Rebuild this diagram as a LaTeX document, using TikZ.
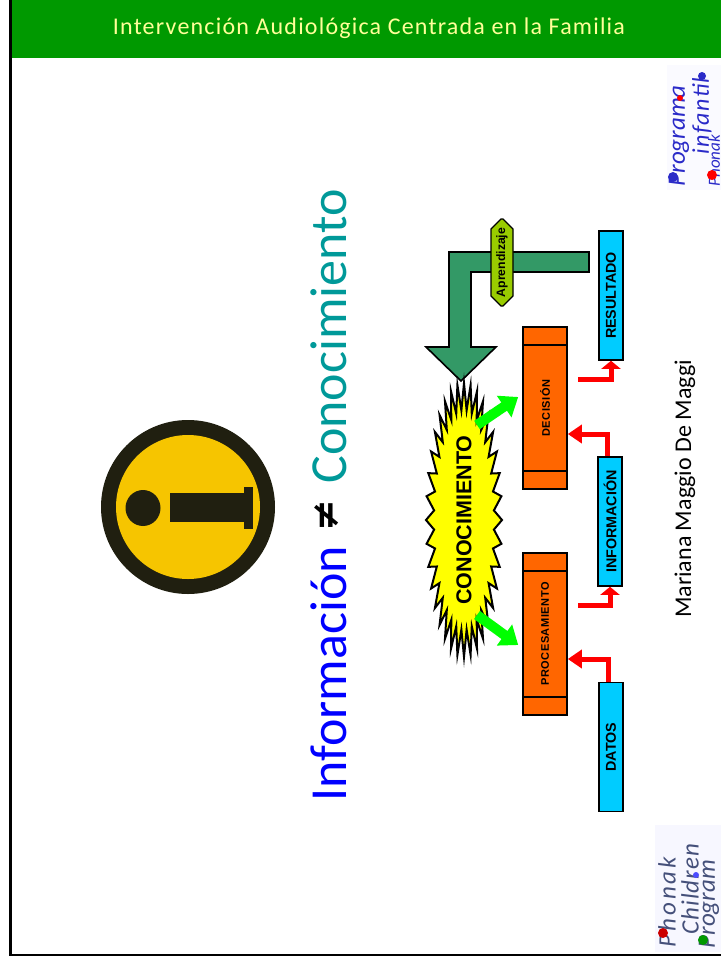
\documentclass[tikz,border=0pt]{standalone}
\usepackage{fontspec}
\setmainfont{Carlito}
\newfontfamily\armfont{Liberation Sans}
\newfontfamily\signfont{DejaVu Sans}
\usetikzlibrary{arrows.meta,shapes.misc}
\definecolor{hdrgreen}{HTML}{009900}
\definecolor{hdrtext}{HTML}{FFFF99}
\definecolor{teal}{HTML}{009999}
\definecolor{arrowgreen}{HTML}{339966}
\definecolor{infoblue}{HTML}{00CCFF}
\definecolor{boxorange}{HTML}{FF6600}
\definecolor{learngreen}{HTML}{99CC00}
\definecolor{burstyellow}{HTML}{FFFF00}
\definecolor{signyellow}{HTML}{F6C500}
\definecolor{signdark}{HTML}{201F10}
\definecolor{inkblue}{HTML}{2A2AC8}
\definecolor{inkgrey}{HTML}{45507A}
\tikzset{
  infobox/.style={draw=black, line width=1.6pt, fill=infoblue, minimum width=24pt,
    minimum height=129pt, inner sep=0pt, font=\armfont\bfseries\fontsize{14.3}{15}\selectfont},
  stepbox/.style={draw=black, line width=1.6pt, fill=boxorange, minimum width=44pt,
    minimum height=162pt, inner sep=0pt, font=\armfont\bfseries\fontsize{11}{11}\selectfont},
  redarrow/.style={draw=red, line width=5pt,
    -{Triangle[length=14pt,width=18pt,fill=red]}},
  redshort/.style={draw=red, line width=5pt,
    -{Triangle[length=8pt,width=19pt,fill=red]}},
  limearrow/.style={draw=green, line width=10pt,
    -{Triangle[length=17pt,width=25pt,fill=green]}},
  logotext/.style={rotate=90, anchor=west, font=\rmfamily\itshape\fontsize{#1}{#1}\selectfont}
}
\begin{document}
\begin{tikzpicture}[x=1pt, y=-1pt]
  \useasboundingbox (0,0) rectangle (721,961);
  \clip (0,0) rectangle (721,961);
  \fill[white] (0,0) rectangle (721,961);

  % frame and header
  \draw[black, line width=2.5pt] (10.5,0) -- (10.5,955) -- (721,955);
  \fill[hdrgreen] (11.5,0) rectangle (721,58);
  \node[text=hdrtext, font=\fontsize{24}{25}\selectfont] (title) at (369,28)
    {\addfontfeature{LetterSpace=5}Intervención Audiológica Centrada en la Familia};

  % information sign
  \fill[signdark] (188,507) circle (87);
  \fill[signyellow] (188,507) circle (72);
  \fill[signdark] (143,508) ellipse (17.5 and 18);
  \fill[signdark] (170,493) rectangle (245,522);
  \fill[signdark] (244,487) rectangle (253,529);

  % heading
  \node[rotate=90, anchor=west, text=blue, font=\fontsize{52}{52}\selectfont] (info) at (329,805) {Información};
  \node[rotate=90, anchor=west, text=teal, font=\fontsize{52}{52}\selectfont] (know) at (329,487) {Conocimiento};
  \node[rotate=90, font=\signfont\bfseries\fontsize{38}{38}\selectfont] (neq) at (327,516) {≠};

  % bent arrow
  \draw[black, line width=1.6pt, fill=arrowgreen] (589,252) -- (449,252) -- (449,347) -- (426,347)
    -- (461,381) -- (496,347) -- (471,347) -- (471,272) -- (589,272) -- cycle;
  \node[chamfered rectangle, chamfered rectangle xsep=5pt, chamfered rectangle ysep=5pt,
    draw=black, line width=1.2pt, fill=learngreen, minimum width=22pt, minimum height=87pt,
    inner sep=0pt] (learn) at (502,262.5)
    {\rotatebox{90}{\armfont\bfseries\fontsize{12.2}{13}\selectfont Aprendizaje}};

  % burst
  \draw[black, line width=2pt, fill=burstyellow, line join=miter, miter limit=20]
    plot[samples at={0,5,...,355}] ({464+(mod(round(\x/5),2)==0 ? 38 : 30)*cos(\x)},
      {520+(mod(round(\x/5),2)==0 ? 137 : 110)*sin(\x)}) -- cycle;
  \node[font=\armfont\bfseries\fontsize{21.5}{22}\selectfont] (burst) at (464,520) {\rotatebox{90}{CONOCIMIENTO}};

  % boxes
  \node[infobox] (datos) at (611,747) {\rotatebox{90}{DATOS}};
  \node[infobox] (informacion) at (610,521.5) {\rotatebox{90}{INFORMACIÓN}};
  \node[infobox] (resultado) at (611,295.5) {\rotatebox{90}{RESULTADO}};
  \node[stepbox] (proceso) at (545,634) {\rotatebox{90}{\addfontfeature{LetterSpace=5}PROCESAMIENTO}};
  \node[stepbox] (decision) at (545,408) {\rotatebox{90}{\addfontfeature{LetterSpace=5}DECISIÓN}};
  \foreach \n in {proceso,decision} {
    \draw[line width=1.6pt] ([yshift=-19pt]\n.north west) -- ([yshift=-19pt]\n.north east);
    \draw[line width=1.6pt] ([yshift=19pt]\n.south west) -- ([yshift=19pt]\n.south east);
  }

  % connectors
  \coordinate (procout) at (578,605);
  \coordinate (decout) at (578,379);
  \draw[redarrow] ([xshift=-3pt]datos.north) |- ([yshift=-25pt]proceso.east);
  \draw[redarrow] ([xshift=-3pt]informacion.north) |- ([yshift=-26pt]decision.east);
  \draw[redshort] (procout) -| (informacion.south);
  \draw[redshort] (decout) -| (resultado.south);
  \coordinate (burstlow) at (477,615);
  \coordinate (burstup) at (477,425);
  \draw[limearrow] (burstlow) -- ([xshift=-4pt,yshift=-11pt]proceso.west);
  \draw[limearrow] (burstup) -- ([xshift=-4pt,yshift=11pt]decision.west);

  % author
  \node[rotate=90, font=\fontsize{24}{24}\selectfont] (author) at (685,489) {Mariana Maggio De Maggi};

  % logos
  \fill[blue!2] (667,65) rectangle (721,190);
  \node[logotext=25, text=inkblue] (logoa) at (679,190) {Programa};
  \node[logotext=24, text=inkblue] (logob) at (702,158) {\addfontfeature{LetterSpace=6}infantil};
  \node[logotext=17, text=inkblue] (logoc) at (714,190) {Phonak};
  \fill[red] (680,98) circle (3);
  \fill[inkblue] (673,177) circle (5);
  \fill[inkblue] (702,76) circle (4);
  \fill[red] (712,175) circle (5);
  \fill[blue!3] (655,825) rectangle (721,952);
  \node[logotext=25, text=inkgrey] (logod) at (667,951) {\addfontfeature{LetterSpace=12}Phonak};
  \node[logotext=25, text=inkgrey] (logoe) at (690,938) {\addfontfeature{LetterSpace=4}Children};
  \node[logotext=25, text=inkgrey] (logof) at (709,952) {Program};
  \fill[red!80!black] (663,933) circle (5);
  \fill[green!60!black] (703,940) circle (5);
  \fill[blue!70] (696,875) circle (3);
\end{tikzpicture}
\end{document}
